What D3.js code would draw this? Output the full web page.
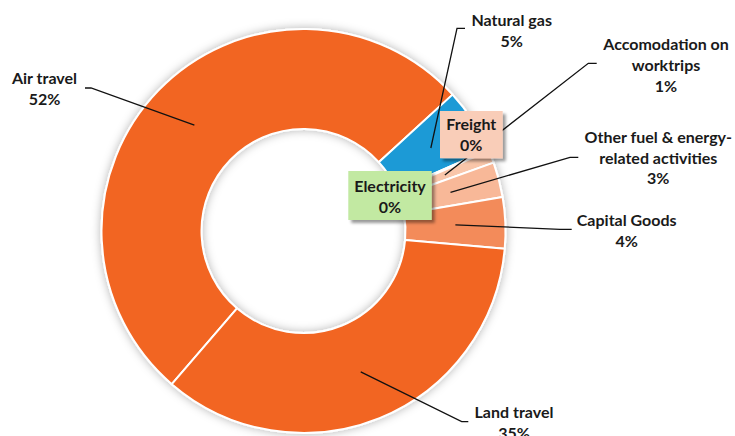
<!DOCTYPE html>
<html>
<head>
<meta charset="utf-8">
<script src="https://cdn.jsdelivr.net/npm/d3@7"></script>
<style>
  html, body { margin: 0; padding: 0; background: #fff; }
  svg { display: block; }
  text { font-family: Lato, "Open Sans", sans-serif; font-weight: 700; fill: #1a1a1a; }
</style>
</head>
<body>
<svg id="chart" width="735" height="436"></svg>
<script>
// ---- data ----
const categories = ["Air travel", "Natural gas", "Freight", "Electricity",
  "Accomodation on worktrips", "Other fuel & energy-related activities", "Capital Goods", "Land travel"];
const values = [51.9, 5.2, 0.05, 0.05, 1.0, 2.8, 4.1, 34.9];
const labelLines = [["Air travel"], ["Natural gas"], ["Freight"], ["Electricity"],
  ["Accomodation on", "worktrips"], ["Other fuel & energy-", "related activities"], ["Capital Goods"], ["Land travel"]];
const colors = ["#F26522", "#1A9AD6", "#F9CBB2", "#BFE8A0", "#F9C6AA", "#F8B898", "#F38B5A", "#F26522"];
const boxFill = [null, null, "#F9CDB8", "#C2E9A2", null, null, null, null];

// ---- layout (annotation placement) ----
const W = 735, H = 436;
const cx = 303.5, cy = 231, outerR = 202, innerR = 102;
const startDeg = -139.3;
// label: [centerX, first baseline], leader: [stubStartX, stubEndX, y] or null, box: [x0,y0,x1,y1] or null
const labelPos = [[44.5, 84.3], [511.7, 26], [471.3, 130], [390, 191.7], [666, 50], [658.3, 142.7], [626.7, 225.7], [514, 417.7]];
const leaders = [[85, 91, 88], [465, 457, 28.3], null, null, [596.7, 588.3, 63.3], [578.3, 570, 157.3], [571.7, 560, 229.3], [468.3, 461.7, 421.7]];
const boxes = [null, null, [440, 111, 502.7, 158.3], [348.3, 171, 431.7, 220], null, null, null, null];
const lineH = 20.8;
const fontSize = 16;

const svg = d3.select("#chart");
svg.append("rect").attr("width", W).attr("height", H).attr("fill", "#fff");

const defs = svg.append("defs");
const f1 = defs.append("filter").attr("id", "glow").attr("x", "-20%").attr("y", "-20%").attr("width", "140%").attr("height", "140%");
f1.append("feGaussianBlur").attr("in", "SourceAlpha").attr("stdDeviation", 5).attr("result", "b");
f1.append("feFlood").attr("flood-color", "#000").attr("flood-opacity", 0.3).attr("result", "c");
f1.append("feComposite").attr("in", "c").attr("in2", "b").attr("operator", "in").attr("result", "s");
const m1 = f1.append("feMerge");
m1.append("feMergeNode").attr("in", "s");
m1.append("feMergeNode").attr("in", "SourceGraphic");

const f2 = defs.append("filter").attr("id", "boxshadow").attr("x", "-20%").attr("y", "-20%").attr("width", "150%").attr("height", "150%");
f2.append("feGaussianBlur").attr("in", "SourceAlpha").attr("stdDeviation", 1.8).attr("result", "b");
f2.append("feOffset").attr("in", "b").attr("dx", 2.5).attr("dy", 2.5).attr("result", "o");
f2.append("feFlood").attr("flood-color", "#000").attr("flood-opacity", 0.4).attr("result", "c");
f2.append("feComposite").attr("in", "c").attr("in2", "o").attr("operator", "in").attr("result", "s");
const m2 = f2.append("feMerge");
m2.append("feMergeNode").attr("in", "s");
m2.append("feMergeNode").attr("in", "SourceGraphic");

const a0 = startDeg * Math.PI / 180;
const pie = d3.pie().sort(null).value(d => d).startAngle(a0).endAngle(a0 + 2 * Math.PI);
const arcs = pie(values);
const arc = d3.arc().innerRadius(innerR).outerRadius(outerR);
const midArc = d3.arc().innerRadius(152).outerRadius(152);

const g = svg.append("g").attr("transform", `translate(${cx},${cy})`);
g.append("g").attr("filter", "url(#glow)")
  .selectAll("path").data(arcs).join("path")
  .attr("d", arc)
  .attr("fill", (d, i) => colors[i])
  .attr("stroke", "#fff").attr("stroke-width", 2).attr("stroke-linejoin", "round");

// leader lines
const lg = svg.append("g");
arcs.forEach((d, i) => {
  const L = leaders[i];
  if (!L) return;
  const c = midArc.centroid(d);
  const pts = [[L[0], L[2]], [L[1], L[2]], [cx + c[0], cy + c[1]]];
  lg.append("path").attr("d", d3.line()(pts)).attr("fill", "none").attr("stroke", "#111").attr("stroke-width", 1.3);
});

// boxes
arcs.forEach((d, i) => {
  const B = boxes[i];
  if (!B) return;
  svg.append("rect").attr("x", B[0]).attr("y", B[1]).attr("width", B[2] - B[0]).attr("height", B[3] - B[1])
    .attr("fill", boxFill[i]).attr("filter", "url(#boxshadow)");
});

// labels
arcs.forEach((d, i) => {
  const lines = labelLines[i].concat([Math.round(values[i]) + "%"]);
  const t = svg.append("text").attr("text-anchor", "middle").attr("font-size", fontSize);
  lines.forEach((s, k) => {
    t.append("tspan").attr("x", labelPos[i][0]).attr("y", labelPos[i][1] + k * lineH).text(s);
  });
});
</script>
</body>
</html>
